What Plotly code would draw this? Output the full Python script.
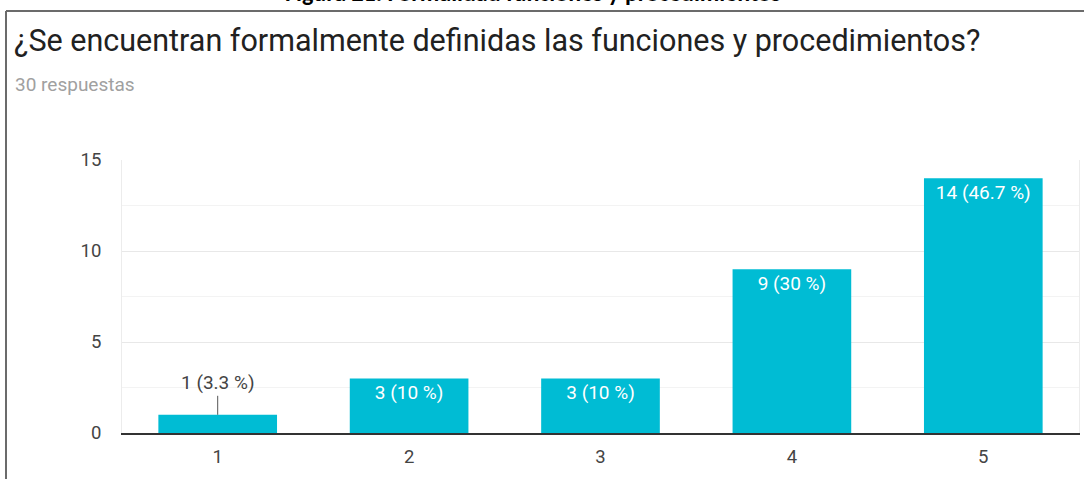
import plotly.graph_objects as go

categories = ["1", "2", "3", "4", "5"]
counts = [1, 3, 3, 9, 14]
total = 30
y_ticks = [0, 5, 10, 15]

title_text = "¿Se encuentran formalmente definidas las funciones y procedimientos?"
subtitle_text = "30 respuestas"
figure_caption = "Figura 21. Formalidad funciones y procedimientos"

def fmt_pct(v):
    p = round(v / total * 100, 1)
    return f"{p:g}"

labels = [f"{v} ({fmt_pct(v)} %)" for v in counts]
inside_text = [lab if v >= 2 else "" for lab, v in zip(labels, counts)]

W, H = 1084, 479
L, R, T, B = 122, 5, 160, 46
pw, ph = W - L - R, H - T - B

def px(x):
    return (x - L) / pw

def py(y):
    return (H - B - y) / ph

FONT = "Roboto, Arial"

fig = go.Figure()
fig.add_trace(go.Bar(
    x=categories, y=counts, text=inside_text,
    textposition="inside", insidetextanchor="end",
    textfont=dict(color="white", size=19, family=FONT),
    marker=dict(color="#00bcd4", line=dict(width=0)),
    textangle=0, cliponaxis=False, hoverinfo="skip",
))

for i, (v, lab) in enumerate(zip(counts, labels)):
    if v < 2:
        fig.add_annotation(x=i, y=v, xref="x", yref="y", text=lab,
                           showarrow=True, arrowhead=0, arrowwidth=1, arrowcolor="#555",
                           ax=0, ay=-19, yanchor="bottom",
                           font=dict(color="#444", size=19, family=FONT))

fig.add_annotation(x=px(12), y=py(40), xref="paper", yref="paper", text=title_text,
                   showarrow=False, xanchor="left", yanchor="middle",
                   font=dict(size=30.5, color="#212121", family=FONT))
fig.add_annotation(x=px(13), y=py(84), xref="paper", yref="paper", text=subtitle_text,
                   showarrow=False, xanchor="left", yanchor="middle",
                   font=dict(size=19, color="#a0a0a0", family=FONT))
fig.add_annotation(x=px(533), y=py(9), xref="paper", yref="paper", text="<b>" + figure_caption + "</b>",
                   showarrow=False, xanchor="center", yanchor="bottom",
                   font=dict(size=24, color="#000", family="Carlito, Liberation Sans, Arial"))

# screenshot frame
fig.add_shape(type="line", xref="paper", yref="paper", x0=px(6), x1=px(W + 5), y0=py(11), y1=py(11),
              line=dict(color="#6b6b6b", width=2))
fig.add_shape(type="line", xref="paper", yref="paper", x0=px(6), x1=px(6), y0=py(11), y1=py(H + 5),
              line=dict(color="#6b6b6b", width=2))

fig.update_layout(
    width=W, height=H,
    margin=dict(l=L, r=R, t=T, b=B),
    paper_bgcolor="white", plot_bgcolor="white",
    bargap=0.38, showlegend=False,
    font=dict(family=FONT, size=18, color="#444"),
    xaxis=dict(type="category", showline=True, linecolor="#333", linewidth=1.5, ticks="",
               showgrid=False, ticklabelstandoff=6, tickfont=dict(size=18.5, color="#444")),
    yaxis=dict(range=[0, 15], tickvals=y_ticks, showgrid=True, gridcolor="#e8e8e8",
               minor=dict(dtick=2.5, showgrid=True, gridcolor="#f3f3f3"),
               showline=True, mirror=True, linecolor="#ececec", zeroline=False,
               ticks="", ticklabelstandoff=16, tickfont=dict(size=18.5, color="#444")),
)

fig.write_html("out.html", config={"displayModeBar": False},
               post_script="document.body.style.margin='0';")
